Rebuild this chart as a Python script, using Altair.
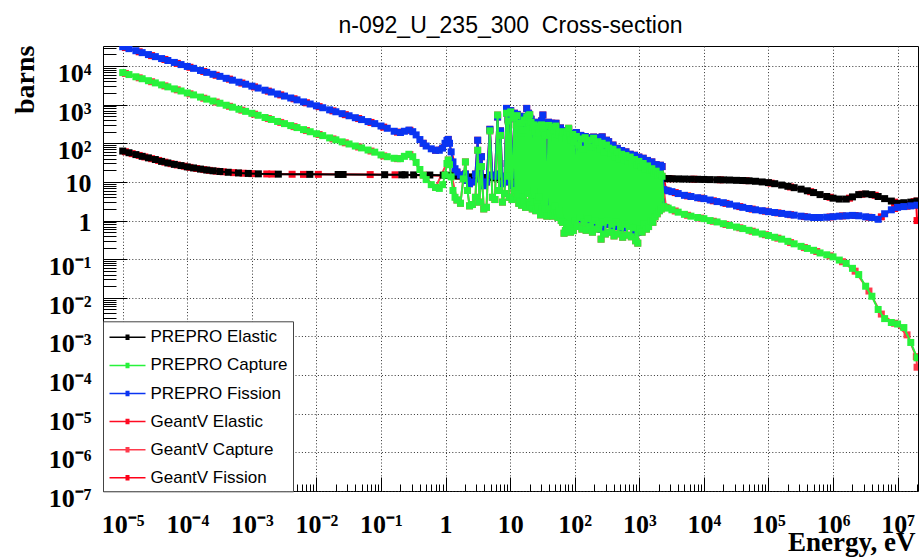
import json
import altair as alt
import pandas as pd

# ---------------------------------------------------------------- text
TITLE = "n-092_U_235_300\u00a0 Cross-section"
X_TITLE = "Energy, eV"
Y_TITLE = "barns"

series_names = ["PREPRO Elastic", "PREPRO Capture", "PREPRO Fission",
                "GeantV Elastic", "GeantV Capture", "GeantV Fission"]
series_colors = ["#000000", "#27f23b", "#0a34f2", "#ff0a22", "#ff3a4c", "#ff0018"]

# ---------------------------------------------------------------- axes
x_major = [1e-5, 1e-4, 1e-3, 1e-2, 1e-1, 1, 10, 1e2, 1e3, 1e4, 1e5, 1e6, 1e7]
x_major_labels = ["10⁻⁵", "10⁻⁴", "10⁻³", "10⁻²", "10⁻¹", "1", "10",
                  "10²", "10³", "10⁴", "10⁵", "10⁶", "10⁷"]
y_major = [1e-7, 1e-6, 1e-5, 1e-4, 1e-3, 1e-2, 1e-1, 1, 10, 1e2, 1e3, 1e4]
y_major_labels = ["10⁻⁷", "10⁻⁶", "10⁻⁵", "10⁻⁴", "10⁻³", "10⁻²", "10⁻¹",
                  "1", "10", "10²", "10³", "10⁴"]
x_minor = [m * 10.0 ** k for k in range(-6, 8) for m in range(2, 10)
           if 5.5e-6 < m * 10.0 ** k < 2.06e7]
y_minor = [m * 10.0 ** k for k in range(-7, 5) for m in range(2, 10)
           if m * 10.0 ** k < 3.2e4]
X_DOMAIN = [4.95e-6, 2.07e7]
Y_DOMAIN = [1e-7, 3.3e4]

# ---------------------------------------------------------------- PREPRO, thermal range (capture and fission)
e_thermal = [1e-5, 1.25e-5, 1.6e-5, 2e-5, 2.5e-5, 3.2e-5, 4e-5, 5e-5, 6.3e-5, 8e-5,
             1e-4, 1.25e-4, 1.6e-4, 2e-4, 2.5e-4, 3.2e-4, 4e-4, 5e-4, 6.3e-4, 8e-4,
             1e-3, 1.25e-3, 1.6e-3, 2e-3, 2.5e-3, 3.2e-3, 4e-3, 5e-3, 6.3e-3, 8e-3,
             1e-2, 1.25e-2, 1.6e-2, 2e-2, 2.5e-2, 3.2e-2, 4e-2, 5e-2, 6.3e-2, 8e-2,
             0.1, 0.125, 0.16, 0.2, 0.23, 0.27, 0.31, 0.35, 0.4, 0.45, 0.5,
             0.6, 0.7, 0.8, 0.9, 0.98, 1.05, 1.1, 1.15, 1.22, 1.3, 1.4]
capture_thermal = [6760, 6010, 5270, 4690, 4170, 3660, 3250, 2890, 2560, 2260,
                   2010, 1790, 1570, 1390, 1240, 1090, 967, 860, 762, 671,
                   597, 531, 466, 414, 368, 323, 287, 255, 226, 199,
                   177, 158, 138, 123, 109, 96, 85, 76, 67, 59,
                   50, 45, 41, 40, 46, 52, 45, 32, 21, 15, 11.5,
                   8.5, 7.2, 6.8, 8.5, 15, 30, 37, 28, 13.5, 6, 4]
fission_thermal = [31600, 28200, 24900, 22200, 19800, 17500, 15600, 13900, 12400, 10900,
                   9760, 8710, 7680, 6850, 6120, 5400, 4810, 4300, 3820, 3380,
                   3020, 2690, 2370, 2120, 1890, 1670, 1490, 1330, 1180, 1040,
                   933, 832, 734, 655, 585, 516, 460, 411, 365, 323,
                   280, 245, 205, 190, 205, 219, 200, 165, 125, 100, 85,
                   72, 66, 66, 75, 100, 118, 126, 100, 60, 33, 22]

# ---------------------------------------------------------------- PREPRO, resolved resonances 1.5 - 100 eV
e_res_low = [1.5, 1.7, 1.88, 2.03, 2.18, 2.35, 2.6, 2.9, 3.14, 3.35, 3.6, 3.9, 4.3, 4.85,
             5.3, 5.8, 6.39, 6.75, 7.08, 7.6, 8.2, 8.78, 9.0, 9.28, 9.7,
             10.18, 10.7, 11.66, 12.0, 12.39, 12.6, 12.85, 13.1, 13.28, 13.6, 14.0, 14.3,
             14.54, 15.0, 15.4, 15.8, 16.09, 16.4, 16.67, 17.3, 18.05, 18.6, 19.3, 19.7,
             20.1, 20.6, 21.07, 22.0, 22.94, 23.2, 23.4, 23.8, 24.2, 24.9, 25.6, 26.0,
             26.5, 27.2, 27.8, 28.1, 28.4, 29.5, 30.6, 31.3, 32.1, 32.8, 33.5, 34.0,
             34.4, 34.8, 35.2, 37.0, 39.4, 40.4, 41.4, 42.7, 44.0, 45.5, 46.9, 47.6,
             48.3, 48.9, 49.4, 50.3, 51.2, 52.3, 53.5, 55.0, 56.4, 57.2, 58.1, 59.1,
             60.2, 61.8, 63.5, 65.0, 66.6, 68.3, 70.0, 71.7, 73.5, 75.0, 76.5, 78.5,
             80.5, 82.2, 84.0, 86.0, 88.0, 90.5, 93.0, 95.0, 97.0]
capture_res_low = [3.4, 2.8, 12, 33, 6, 2.4, 2.6, 4, 66, 3, 25, 2.0, 2.2, 210,
                   4, 3.5, 540, 6, 160, 3.0, 5, 600, 14, 380, 4,
                   650, 3.5, 450, 6, 300, 4, 520, 5, 260, 2.8, 330, 3,
                   180, 2.5, 340, 4, 220, 3, 400, 2.2, 480, 5, 520, 3,
                   550, 2.6, 350, 2, 260, 6, 300, 3, 200, 1.8, 280, 3,
                   150, 2.2, 230, 4, 180, 1.4, 300, 2, 250, 1.5, 200, 2.5,
                   280, 2, 160, 1.3, 290, 2, 180, 1.5, 260, 1.3, 150, 2,
                   220, 2.4, 140, 1.4, 280, 1.6, 170, 1.2, 190, 1.8, 160, 1.2,
                   200, 1.0, 150, 0.9, 180, 0.47, 180, 0.55, 140, 0.8, 200, 0.6,
                   245, 0.7, 150, 0.5, 120, 0.6, 170, 0.55, 110]
fission_res_low = [18, 15, 15, 16, 11, 9, 10, 16, 120, 12, 45, 8, 10, 230,
                   15, 14, 480, 16, 210, 9, 14, 800, 30, 420, 10,
                   700, 8, 600, 15, 420, 9, 560, 12, 380, 6, 450, 7,
                   260, 5, 400, 9, 300, 8, 500, 5, 800, 12, 600, 7,
                   450, 6, 420, 5, 330, 14, 280, 7, 300, 4, 350, 6,
                   220, 5, 300, 9, 260, 3, 380, 5, 540, 3, 260, 5,
                   320, 4.5, 240, 1.6, 350, 4, 250, 3, 330, 2.8, 200, 4,
                   280, 5, 200, 3, 330, 3.5, 230, 2.5, 210, 3.6, 220, 2.4,
                   250, 2, 160, 1.6, 150, 1.3, 170, 1.1, 160, 1.5, 210, 1.2,
                   230, 1.4, 180, 1.0, 150, 1.2, 160, 1.1, 140]

# ---------------------------------------------------------------- PREPRO, resolved resonances 100 eV - 2.25 keV
e_res_high = [102, 106, 110, 115, 119, 124, 129, 134, 139, 145, 150, 156, 162, 168,
              175, 181, 188, 196, 203, 211, 219, 228, 237, 246, 256, 266, 276, 287,
              298, 310, 322, 335, 348, 362, 376, 391, 406, 422, 439, 456, 474, 492,
              512, 532, 553, 574, 597, 620, 645, 670, 696, 723, 752, 781, 812, 844,
              877, 911, 947, 984, 1023, 1063, 1105, 1148, 1193, 1240, 1289, 1339,
              1392, 1446, 1503, 1562, 1624, 1687, 1754, 1822, 1894, 1968, 2045, 2125,
              2190, 2250]
capture_res_high = [1.0, 150, 0.7, 90, 1.2, 130, 0.6, 70, 0.9, 140, 0.56, 100, 1.1, 120,
                    0.7, 80, 0.5, 135, 1.0, 95, 0.6, 110, 0.8, 70, 0.33, 100, 0.9, 60,
                    0.45, 90, 1.0, 75, 0.5, 55, 0.8, 70, 0.4, 45, 0.9, 60, 0.45, 40,
                    0.7, 52, 0.37, 38, 0.8, 48, 0.42, 35, 0.7, 44, 0.38, 30, 0.65, 38,
                    0.3, 28, 0.26, 34, 0.6, 25, 0.5, 30, 0.8, 22, 0.6, 26,
                    0.7, 20, 1.0, 22, 0.9, 17, 1.25, 19, 1.5, 15, 1.8, 16,
                    2.0, 14]
fission_res_high = [1.8, 190, 1.3, 120, 2.0, 160, 1.1, 110, 1.6, 150, 1.0, 140, 1.9, 130,
                    1.3, 120, 0.9, 145, 1.7, 130, 1.1, 140, 1.5, 100, 0.6, 147, 1.6, 90,
                    0.8, 120, 1.8, 110, 0.9, 80, 1.4, 90, 0.7, 70, 1.5, 74, 0.8, 60,
                    1.2, 65, 0.65, 55, 1.4, 60, 0.75, 50, 1.2, 52, 0.7, 45, 1.1, 49,
                    0.55, 40, 0.5, 44, 1.0, 38, 0.9, 41, 1.3, 33, 1.0, 36,
                    1.2, 30, 1.6, 33, 1.5, 27, 2.0, 28, 2.4, 26, 2.8, 27,
                    3.0, 25]

# ---------------------------------------------------------------- PREPRO, unresolved and fast range
e_fast = [2.4e3, 2.8e3, 3.2e3, 4e3, 5e3, 6.3e3, 8e3,
          1e4, 1.25e4, 1.6e4, 2e4, 2.5e4, 3.2e4, 4e4, 5e4, 6.3e4, 8e4,
          1e5, 1.25e5, 1.6e5, 2e5, 2.5e5, 3.2e5, 4e5, 5e5, 6.3e5, 8e5,
          1e6, 1.25e6, 1.6e6, 2e6, 2.5e6, 3.2e6, 4e6, 5e6, 6.3e6, 8e6,
          1e7, 1.25e7, 1.6e7, 2e7]
elastic_fast = [12.3, 12.2, 12.1, 12.0, 11.9, 11.8, 11.7,
                11.6, 11.5, 11.4, 11.3, 11.2, 11.0, 10.9, 10.7, 10.4, 10.0,
                9.6, 9.0, 8.3, 7.7, 7.1, 6.5, 5.9, 5.3, 4.7, 4.2,
                3.8, 3.6, 3.6, 4.1, 4.7, 4.9, 4.7, 4.2, 3.7, 3.2,
                2.8, 2.9, 3.0, 3.2]
capture_fast = [2.3, 2.1, 1.9, 1.65, 1.45, 1.3, 1.2,
                1.12, 1.0, 0.92, 0.83, 0.75, 0.68, 0.62, 0.56, 0.5, 0.45,
                0.41, 0.37, 0.33, 0.29, 0.25, 0.215, 0.19, 0.17, 0.145, 0.13,
                0.115, 0.095, 0.078, 0.058, 0.04, 0.02, 0.011, 0.005, 0.0029, 0.0023,
                0.0021, 0.0017, 0.0007, 0.00028]
fission_fast = [6.3, 5.9, 5.6, 5.0, 4.5, 4.2, 3.9,
                3.7, 3.4, 3.1, 2.9, 2.65, 2.4, 2.2, 2.05, 1.9, 1.8,
                1.7, 1.62, 1.53, 1.45, 1.38, 1.3, 1.24, 1.2, 1.2, 1.22,
                1.26, 1.3, 1.33, 1.36, 1.33, 1.25, 1.2, 1.08, 1.5, 1.9,
                2.2, 2.3, 2.4, 2.5]

# ---------------------------------------------------------------- PREPRO elastic below the fast range
e_elastic_low = [1e-5, 1.25e-5, 1.6e-5, 2e-5, 2.5e-5, 3.2e-5, 4e-5, 5e-5, 6.3e-5, 8e-5,
                 1e-4, 1.25e-4, 1.6e-4, 2e-4, 2.5e-4, 3.2e-4, 4.3e-4, 6.2e-4, 8.8e-4,
                 1.26e-3, 2.57e-3, 7.9e-3, 0.0217, 0.0259, 0.114, 0.21, 0.236, 0.32,
                 0.57, 0.92, 1.1]
elastic_low = [63, 57, 51, 46, 42, 38, 34, 31, 28.5, 26.5,
               24.5, 23, 21.5, 20.3, 19.4, 18.6, 17.8, 17.1, 16.6,
               16.2, 15.9, 15.7, 15.6, 15.6, 15.4, 15.3, 15.3, 15.2,
               15.1, 15.0, 14.9]
e_elastic_res = [1.3, 1.6, 2.0, 2.5, 3.2, 4.0, 5.0, 6.3, 8.0, 10, 20, 50, 100, 300, 1000, 2250]
elastic_res = [14.6, 14.2, 13.8, 13.5, 13.2, 13.0, 12.8, 12.6, 12.4, 12.2, 12.0, 11.8,
               11.6, 11.5, 11.6, 12.2]

# ---------------------------------------------------------------- GeantV
geant_e_elastic = [1.1e-5, 1.4e-5, 1.8e-5, 2.2e-5, 2.8e-5, 3.6e-5, 4.5e-5, 5.6e-5, 7e-5, 9e-5,
                   1.1e-4, 1.4e-4, 1.8e-4, 2.2e-4, 2.8e-4, 3.6e-4, 5.2e-4, 7.3e-4, 1.0e-3,
                   1.7e-3, 2.04e-3, 4.2e-3, 6.3e-3, 0.0107, 0.068, 0.165,
                   1.5, 3.0, 10, 100, 1000,
                   3e3, 7e3, 1.8e4, 4.5e4, 1.1e5, 2.2e5, 4.5e5, 9e5, 1.8e6, 2.8e6,
                   4.5e6, 9e6, 1.8e7, 2e7]
geant_elastic = [60.5, 54, 48.5, 44.3, 40, 36, 32.5, 29.7, 27.5, 25.5,
                 23.8, 22.3, 20.9, 19.9, 19.0, 18.3, 17.4, 16.8, 16.4,
                 16.1, 16.0, 15.8, 15.7, 15.7, 15.5, 15.3,
                 14.3, 13.2, 12.2, 11.6, 11.6,
                 12.1, 11.8, 11.35, 10.8, 9.3, 7.4, 5.6, 4.0, 3.8, 4.8,
                 4.5, 3.0, 3.1, 3.2]
geant_e_thermal = [1.1e-5, 1.8e-5, 2.8e-5, 4.5e-5, 7e-5, 1.1e-4, 1.8e-4, 2.8e-4, 4.5e-4,
                   7e-4, 1.1e-3, 1.8e-3, 2.8e-3, 4.5e-3, 7e-3, 0.011, 0.018, 0.028,
                   0.045, 0.07, 0.11, 0.18, 0.28, 0.45, 0.7, 1.1]
geant_capture_thermal = [6430, 4960, 3930, 3060, 2420, 1910, 1470, 1170, 907,
                         720, 567, 437, 347, 270, 214, 169, 130, 103,
                         80, 63, 47, 40, 51, 15, 7.2, 37]
geant_fission_thermal = [30100, 23400, 18600, 14800, 11700, 9290, 7240, 5770, 4580,
                         3630, 2880, 2240, 1790, 1420, 1120, 890, 693, 551,
                         437, 347, 262, 195, 217, 100, 66, 126]
geant_e_fast = [2.6e3, 3.6e3, 5.6e3, 9e3, 1.4e4, 2.2e4, 3.6e4, 5.6e4, 9e4, 1.4e5, 2.2e5,
                3.6e5, 5.6e5, 9e5, 1.4e6, 2.2e6, 3.6e6, 5.6e6, 9e6, 1.4e7, 1.95e7, 2e7]
geant_capture_fast = [2.2, 1.77, 1.37, 1.16, 0.96, 0.79, 0.65, 0.53, 0.43, 0.35, 0.27,
                      0.2, 0.158, 0.122, 0.086, 0.049, 0.015, 0.0038, 0.0022, 0.0011,
                      0.0003, 0.00016]
geant_fission_fast = [6.1, 5.3, 4.35, 3.8, 3.25, 2.78, 2.3, 1.98, 1.75, 1.58, 1.42,
                      1.27, 1.2, 1.24, 1.32, 1.35, 1.22, 1.25, 2.05, 2.35,
                      2.5, 1.0]


def table(name, energies, values):
    assert len(energies) == len(values), name
    return pd.DataFrame({"series": name, "energy": energies, "xs": values})


e_res = e_res_low + e_res_high
curves = {
    "PREPRO Elastic": table("PREPRO Elastic", e_elastic_low + e_elastic_res + e_fast,
                            elastic_low + elastic_res + elastic_fast),
    "PREPRO Capture": table("PREPRO Capture", e_thermal + e_res + e_fast,
                            capture_thermal + capture_res_low + capture_res_high + capture_fast),
    "PREPRO Fission": table("PREPRO Fission", e_thermal + e_res + e_fast,
                            fission_thermal + fission_res_low + fission_res_high + fission_fast),
    "GeantV Elastic": table("GeantV Elastic", geant_e_elastic, geant_elastic),
    "GeantV Capture": table("GeantV Capture", geant_e_thermal + e_res + geant_e_fast,
                            geant_capture_thermal + capture_res_low + capture_res_high
                            + geant_capture_fast),
    "GeantV Fission": table("GeantV Fission", geant_e_thermal + e_res + geant_e_fast,
                            geant_fission_thermal + fission_res_low + fission_res_high
                            + geant_fission_fast),
}

# ---------------------------------------------------------------- layout
PAD_LEFT, PAD_TOP = 103, 46
WIDTH, HEIGHT = 815, 445
PAD_RIGHT = 919 - PAD_LEFT - WIDTH
PAD_BOTTOM = 557 - PAD_TOP - HEIGHT

SERIF = "Liberation Serif"
SANS = "Liberation Sans"

x_scale = alt.Scale(type="log", domain=X_DOMAIN, nice=False)
y_scale = alt.Scale(type="log", domain=Y_DOMAIN, nice=False)
color_scale = alt.Scale(domain=series_names, range=series_colors)

x_label_expr = (f"{json.dumps(x_major_labels, ensure_ascii=False)}"
                f"[indexof({json.dumps(x_major)}, datum.value)]")
y_label_expr = (f"{json.dumps(y_major_labels, ensure_ascii=False)}"
                f"[indexof({json.dumps(y_major)}, datum.value)]")

X_TICK, X_MINOR = 14, 7
Y_TICK, Y_MINOR = 24, 13

axis_sets = {
    "grid": (
        alt.Axis(orient="bottom", values=x_major, grid=True, gridDash=[1, 2.2],
                 gridColor="#333333", gridWidth=1, gridOpacity=1, ticks=False,
                 labels=False, domain=False, title=None),
        alt.Axis(orient="left", values=y_major, grid=True, gridDash=[1, 2.2],
                 gridColor="#333333", gridWidth=1, gridOpacity=1, ticks=False,
                 labels=False, domain=False, title=None),
    ),
    "major": (
        alt.Axis(orient="bottom", values=x_major, grid=False, domain=False,
                 ticks=True, tickSize=X_TICK, tickWidth=1, tickColor="black",
                 offset=-X_TICK, labelExpr=x_label_expr, labelFont=SERIF,
                 labelFontWeight="bold", labelFontSize=26, labelColor="black",
                 labelAlign="center", labelBaseline="alphabetic", labelPadding=41,
                 labelFlush=False, labelOverlap=False, labelBound=False,
                 title=X_TITLE, titleFont=SERIF, titleFontSize=27, titleFontWeight="bold",
                 titleColor="black", titleAnchor="end", titleAlign="right",
                 titleBaseline="alphabetic", titleX=WIDTH - 3,
                 titleY=550 - (PAD_TOP + HEIGHT - X_TICK)),
        alt.Axis(orient="left", values=y_major, grid=False, domain=False,
                 ticks=True, tickSize=Y_TICK, tickWidth=1, tickColor="black",
                 offset=-Y_TICK, labelExpr=y_label_expr, labelFont=SERIF,
                 labelFontWeight="bold", labelFontSize=26, labelColor="black",
                 labelAlign="right", labelBaseline="alphabetic", labelPadding=12,
                 labelOffset={"condition": {"test": "datum.value == 1 || datum.value == 10",
                                            "value": 10}, "value": 15.5},
                 labelFlush=False, labelOverlap=False, labelBound=False,
                 title=Y_TITLE, titleFont=SERIF, titleFontSize=28, titleFontWeight="bold",
                 titleColor="black", titleAnchor="end", titleAlign="right",
                 titleBaseline="alphabetic", titleAngle=270,
                 titleX=33 - PAD_LEFT - Y_TICK, titleY=-1),
    ),
    "minor": (
        alt.Axis(orient="bottom", values=x_minor, grid=False, domain=False, ticks=True,
                 tickSize=X_MINOR, tickWidth=1, tickColor="black", offset=-X_MINOR,
                 labels=False, title=None),
        alt.Axis(orient="left", values=y_minor, grid=False, domain=False, ticks=True,
                 tickSize=Y_MINOR, tickWidth=1, tickColor="black", offset=-Y_MINOR,
                 labels=False, title=None),
    ),
}


def encoded(chart, axes=None, legend=None):
    xa, ya = axes if axes else (None, None)
    return chart.encode(
        x=alt.X("energy:Q", scale=x_scale, axis=xa),
        y=alt.Y("xs:Q", scale=y_scale, axis=ya),
        color=alt.Color("series:N", scale=color_scale, legend=legend),
    )


draw_order = ["GeantV Elastic", "GeantV Capture", "GeantV Fission",
              "PREPRO Elastic", "PREPRO Fission", "PREPRO Capture"]
axis_owner = {("GeantV Elastic", "line"): "grid",
              ("GeantV Elastic", "point"): "major",
              ("GeantV Capture", "line"): "minor"}

layers = []
for name in draw_order:
    df = curves[name]
    line = alt.Chart(df).mark_line(strokeWidth=2, clip=True)
    pts = alt.Chart(df).mark_point(shape="square", filled=True, size=49, opacity=1,
                                   strokeWidth=0, clip=True)
    for kind, ch in (("line", line), ("point", pts)):
        key = axis_owner.get((name, kind))
        layers.append(encoded(ch, axis_sets[key] if key else None))

# legend entries: a line with a small square marker in the middle
LEGEND_SYMBOL = ("M-1.8,0H1.8M-0.2,-0.2H0.2M-0.2,-0.1H0.2M-0.2,0H0.2"
                 "M-0.2,0.1H0.2M-0.2,0.2H0.2")
legend_rows = pd.DataFrame({"series": series_names,
                            "energy": [1.0] * len(series_names),
                            "xs": [1.0] * len(series_names)})
legend_layer = encoded(
    alt.Chart(legend_rows).mark_point(shape=LEGEND_SYMBOL, filled=False, opacity=0,
                                      strokeWidth=1.5, size=400),
    legend=alt.Legend(title=None, orient="none", legendX=0, legendY=275.3,
                      direction="vertical", symbolType=LEGEND_SYMBOL, symbolSize=400,
                      symbolStrokeWidth=1.5, symbolOpacity=1, labelFont=SANS,
                      labelFontSize=17, labelColor="black", labelOffset=12,
                      labelLimit=400, padding=5, rowPadding=9.1, symbolOffset=8.5,
                      strokeColor="#444444", fillColor="white", cornerRadius=0),
)
layers.append(legend_layer)

chart = (
    alt.layer(*layers)
    .properties(
        width=WIDTH, height=HEIGHT,
        padding={"left": PAD_LEFT, "top": PAD_TOP, "right": PAD_RIGHT, "bottom": PAD_BOTTOM},
        autosize=alt.AutoSizeParams(type="none"),
        title=alt.TitleParams(TITLE, font=SANS, fontSize=23, fontWeight="normal",
                              color="black", anchor="middle", frame="group",
                              baseline="alphabetic", offset=14, dy=24.5),
    )
    .resolve_axis(x="independent", y="independent")
    .resolve_legend(color="independent")
    .configure(background="white")
    .configure_view(stroke="black", strokeWidth=1)
)

chart.save("out.html", embed_options={"renderer": "svg", "actions": False})
